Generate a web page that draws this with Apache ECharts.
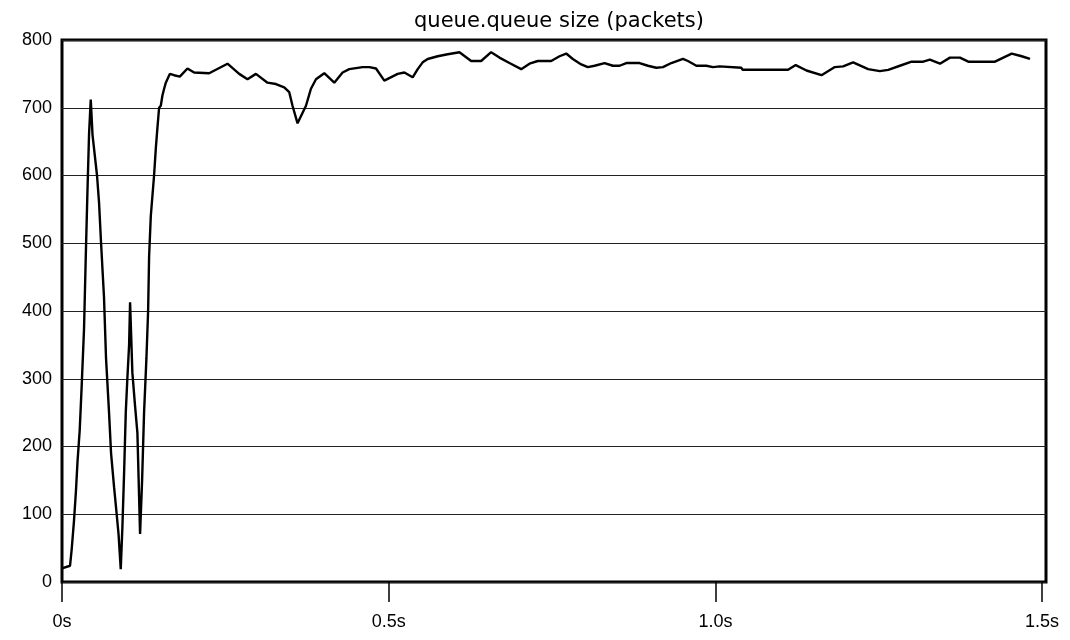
<!DOCTYPE html>
<html>
<head>
<meta charset="utf-8">
<script src="https://cdn.jsdelivr.net/npm/echarts@6/dist/echarts.min.js"></script>
<style>
html,body{margin:0;padding:0;background:#fff;}
#chart{width:1070px;height:640px;}
</style>
</head>
<body>
<div id="chart"></div>
<script>
// Chart title and tick labels
const chartTitle = 'queue.queue size (packets)';
const xTickValues = [0, 0.5, 1.0, 1.5];
const xTickLabels = ['0s', '0.5s', '1.0s', '1.5s'];
const yTickValues = [0, 100, 200, 300, 400, 500, 600, 700, 800];

// Sample times (seconds)
const times = [
  0.000, 0.0123, 0.0149, 0.0184, 0.0214, 0.0237, 0.0271, 0.0302, 0.0337, 0.0363, 0.0388, 0.0414, 0.0440,
  0.0467, 0.0490, 0.0536, 0.0567, 0.0598, 0.0643, 0.0674, 0.0720, 0.0751, 0.0797, 0.0827, 0.0866, 0.0899,
  0.0924, 0.0950, 0.0976, 0.1000, 0.1027, 0.1042,
  0.1077, 0.1118, 0.1154, 0.1195,
  0.1226, 0.1256, 0.1292, 0.1318, 0.1333, 0.1359, 0.1409, 0.1436, 0.1460, 0.1486, 0.1512, 0.1537, 0.1563, 0.1589,
  0.1650, 0.1716, 0.1803, 0.1920, 0.2022, 0.2252, 0.2533, 0.2712, 0.2839, 0.2968, 0.3145, 0.3274, 0.3401,
  0.3478, 0.3528, 0.3605, 0.3734, 0.3810, 0.3887, 0.4014, 0.4167, 0.4294, 0.4397, 0.4601, 0.4704, 0.4806,
  0.4933, 0.5137, 0.5240, 0.5367, 0.5444, 0.5520, 0.5597, 0.5750, 0.5903, 0.6083, 0.6262, 0.6415, 0.6568,
  0.6695, 0.6848, 0.7028, 0.7155, 0.7282, 0.7487, 0.7615, 0.7717, 0.7818, 0.7947, 0.8048, 0.8151, 0.8304,
  0.8431, 0.8534, 0.8636, 0.8840, 0.8967, 0.9096, 0.9197, 0.9326, 0.9504, 0.9580, 0.9709, 0.9862, 0.9963,
  1.0066, 1.0398, 1.0418, 1.1112, 1.1230, 1.1394, 1.1624, 1.1828, 1.1955, 1.2108, 1.2338, 1.2517, 1.2645,
  1.2824, 1.3003, 1.3181, 1.3283, 1.3437, 1.3590, 1.3743, 1.3870, 1.4279, 1.4407, 1.4535, 1.4688, 1.4815
];

// Queue size (packets)
const queueSize = [
  20, 24, 49, 91, 135, 177, 224, 291, 373, 477, 571, 661, 712,
  660, 640, 600, 560, 500, 420, 330, 250, 190, 140, 110, 70, 19,
  80, 160, 250, 300, 350, 413,
  309, 260, 220, 71,
  150, 250, 330, 400, 480, 540, 600, 640, 670, 700, 703, 718, 728, 737,
  750, 748, 746, 758, 752, 751, 765, 750, 742, 750, 737, 735, 730,
  723, 703, 677, 703, 728, 742, 751, 737, 752, 757, 760, 760, 758,
  740, 750, 752, 745, 757, 767, 772, 776, 779, 782, 769, 769, 782,
  774, 766, 757, 765, 769, 769, 776, 780, 772, 764, 760, 762, 766,
  762, 762, 766, 766, 762, 759, 760, 766, 772, 769, 762, 762, 760,
  761, 759, 756, 756, 763, 755, 748, 760, 761, 767, 757, 754, 756,
  762, 768, 768, 771, 765, 774, 774, 768, 768, 774, 780, 776, 772
];

const seriesData = times.map((t, i) => [t, queueSize[i]]);

const FONT = "'Liberation Sans', Arial, sans-serif";

const chart = echarts.init(document.getElementById('chart'), null, {renderer: 'canvas'});
chart.setOption({
  animation: false,
  backgroundColor: '#ffffff',
  title: {
    text: chartTitle,
    left: 554,
    top: 6,
    textAlign: 'center',
    textStyle: {fontFamily: "'DejaVu Sans', sans-serif", fontSize: 21, fontWeight: 'normal', color: '#000'}
  },
  grid: {
    left: 62, right: 24, top: 40, bottom: 58,
    show: true, borderColor: '#000', borderWidth: 3, backgroundColor: 'transparent'
  },
  xAxis: {
    type: 'value',
    min: 0,
    max: 1.506,
    axisLine: {show: false},
    splitLine: {show: false},
    axisTick: {
      show: true, inside: false, length: 20,
      customValues: xTickValues,
      lineStyle: {color: '#000', width: 1.5}
    },
    axisLabel: {
      customValues: xTickValues,
      formatter: v => xTickLabels[xTickValues.indexOf(v)] ?? '',
      margin: 31,
      fontFamily: FONT, fontSize: 18, color: '#000'
    }
  },
  yAxis: {
    type: 'value',
    min: 0, max: 800, interval: 100,
    axisLine: {show: false},
    axisTick: {show: false},
    splitLine: {show: true, lineStyle: {color: '#222', width: 1}},
    axisLabel: {
      margin: 10,
      formatter: v => (yTickValues.indexOf(v) >= 0 ? String(v) : ''),
      fontFamily: FONT, fontSize: 18, color: '#000'
    }
  },
  series: [{
    type: 'line',
    data: seriesData,
    symbol: 'none',
    lineStyle: {color: '#000', width: 2.4},
    z: 3
  }]
});
</script>
</body>
</html>
